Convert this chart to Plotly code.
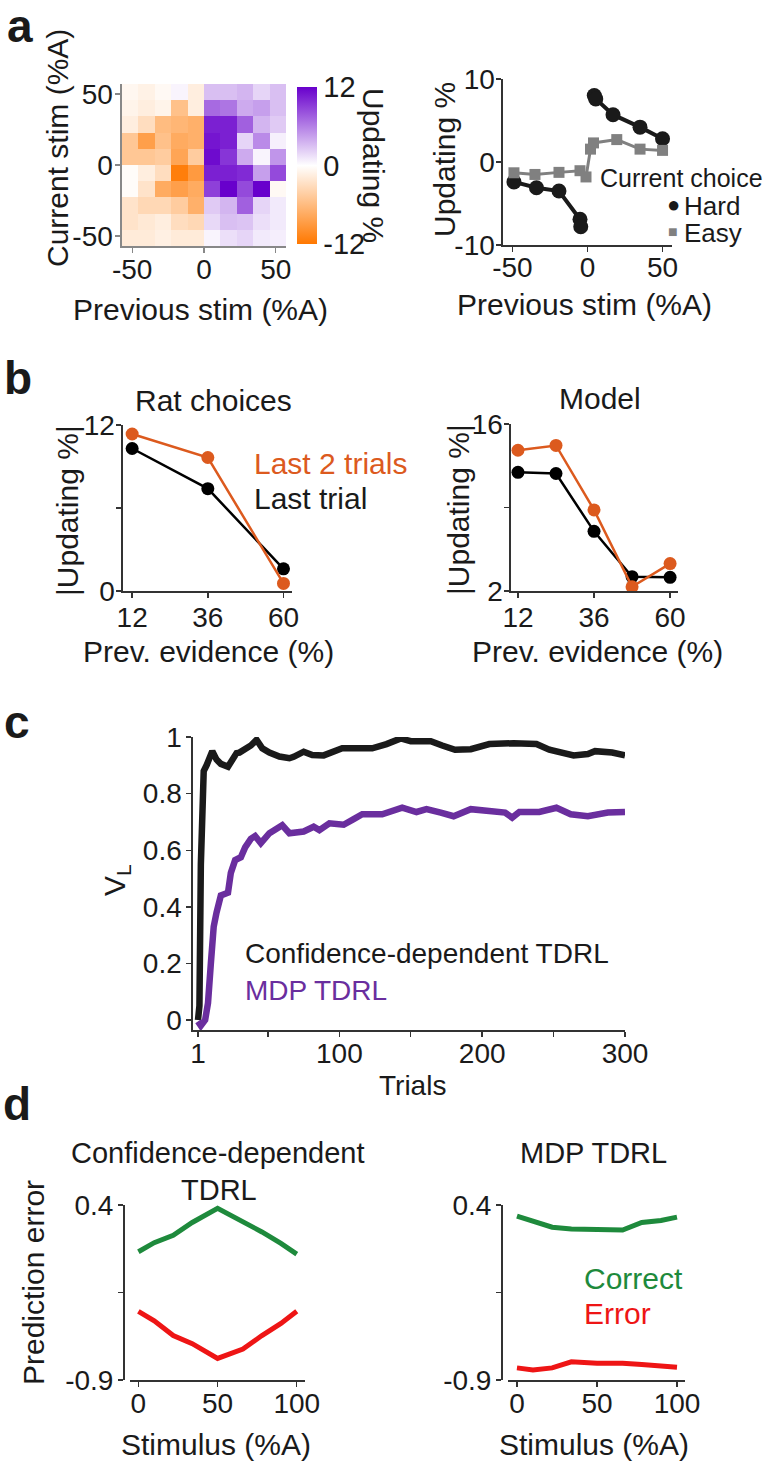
import plotly.graph_objects as go

W, H = 766, 1464
FONT = "Liberation Sans, Arial, sans-serif"
TXT = "#1a1a1a"

# ---------------- data ----------------
# panel a left: heatmap (rows = current stim top->bottom, cols = previous stim)
prev_stim_bins = [-51.4, -40.0, -28.6, -17.1, -5.7, 5.7, 17.1, 28.6, 40.0, 51.4]
curr_stim_bins = [51.3, 39.9, 28.5, 17.1, 5.7, -5.7, -17.1, -28.5, -39.9, -51.3]
updating_map = [
    [-0.7, -1.2, -0.5, 0.5, -1.5, 3.0, 3.0, 3.5, 2.0, 3.0],
    [-1.0, -1.5, -1.0, -5.5, -1.5, 7.0, 6.5, 4.0, 4.5, 3.0],
    [-1.5, -3.0, -6.0, -6.5, -7.0, 10.5, 10.5, 7.5, 3.5, 2.5],
    [-5.0, -8.5, -5.5, -7.5, -7.0, 11.0, 10.5, 2.0, 5.5, 0.7],
    [-5.0, -5.0, -4.5, -8.0, -4.5, 11.5, 9.5, 4.0, 0.5, 5.0],
    [-0.3, -1.5, -3.0, -11.5, -9.0, 10.5, 10.5, 10.0, 4.5, 8.5],
    [-0.3, -2.5, -7.5, -8.5, -7.5, 9.0, 12.0, 8.5, 12.0, -0.5],
    [-2.5, -3.5, -3.5, -4.5, -7.0, 2.5, 3.5, 7.5, 2.0, 1.0],
    [-2.5, -2.0, -1.5, -3.0, -3.5, 1.8, 3.0, 2.8, 1.5, 1.0],
    [-1.8, -1.8, -1.3, -1.8, -1.8, 0.5, 1.5, 2.0, 1.0, 0.8],
]

# panel a right
hard_x = [-49, -34, -19, -5, -4.5, None, 4.5, 5.5, 17, 35, 50]
hard_y = [-2.4, -3.1, -3.5, -6.9, -7.8, None, 8.0, 7.6, 5.7, 4.2, 2.8]
easy_x = [-49, -35, -19, -5, -1, 2, 4, 19.5, 35, 50]
easy_y = [-1.3, -1.5, -1.25, -1.05, -1.8, 1.55, 2.3, 2.7, 1.55, 1.4]

# panel b
rat_evidence = [12, 36, 60]
rat_last_trial = [10.3, 7.4, 1.6]
rat_last2 = [11.35, 9.65, 0.55]
model_evidence = [12, 24, 36, 48, 60]
model_last_trial = [11.95, 11.85, 7.0, 3.2, 3.15]
model_last2 = [13.8, 14.2, 8.8, 2.35, 4.3]

# panel c
conf_trials = [1, 2, 3, 4, 5, 7, 9, 11, 14, 17, 22, 26, 28, 30, 34, 38, 42, 46, 51, 58,
               65, 68, 75, 81, 89, 95, 102, 112, 123, 133, 143, 150, 164, 172, 181, 192,
               205, 222, 238, 247, 256, 264, 274, 279, 291, 300]
conf_vl = [0.0, 0.05, 0.55, 0.82, 0.88, 0.90, 0.93, 0.95, 0.92, 0.905, 0.895, 0.93, 0.943,
           0.945, 0.955, 0.97, 0.99, 0.96, 0.945, 0.931, 0.925, 0.93, 0.948, 0.936, 0.935,
           0.945, 0.96, 0.96, 0.96, 0.975, 0.995, 0.985, 0.985, 0.97, 0.955, 0.957, 0.975,
           0.978, 0.975, 0.955, 0.945, 0.935, 0.94, 0.95, 0.945, 0.935]
mdp_trials = [1, 3, 6, 8, 10, 12, 14, 17, 22, 24, 27, 31, 34, 38, 41, 45, 51, 57, 60, 65,
              75, 82, 86, 93, 103, 110, 116, 130, 144, 154, 161, 171, 180, 192, 205, 216,
              221, 226, 240, 252, 262, 274, 288, 300]
mdp_vl = [-0.005, -0.02, 0.0, 0.06, 0.2, 0.33, 0.38, 0.44, 0.45, 0.52, 0.565, 0.575, 0.61,
          0.64, 0.65, 0.625, 0.66, 0.675, 0.688, 0.66, 0.666, 0.683, 0.671, 0.695, 0.69,
          0.71, 0.727, 0.727, 0.75, 0.735, 0.745, 0.733, 0.72, 0.745, 0.74, 0.733, 0.715,
          0.735, 0.735, 0.75, 0.727, 0.72, 0.733, 0.735]

# panel d
stimulus = [0, 10, 22, 34, 50, 66, 78, 90, 100]
conf_correct = [0.053, 0.12, 0.175, 0.27, 0.375, 0.28, 0.2, 0.115, 0.035]
conf_error = [-0.39, -0.46, -0.57, -0.63, -0.74, -0.67, -0.57, -0.48, -0.39]
mdp_correct = [0.318, 0.28, 0.235, 0.222, 0.214, 0.214, 0.27, 0.285, 0.31]
mdp_error = [-0.81, -0.825, -0.81, -0.765, -0.775, -0.775, -0.785, -0.795, -0.805]

# ---------------- helpers ----------------
def dx(a, b):
    return [a / W, b / W]

def dy(top, bottom):
    return [1 - bottom / H, 1 - top / H]

def px(x):
    return x / W

def py(y):
    return 1 - y / H

ORANGE = "#DC5A1E"
PURPLE = "#6A2E9E"
GREEN = "#1E8A3C"
RED = "#EE1515"

fig = go.Figure()

fig.add_trace(go.Heatmap(
    x=prev_stim_bins, y=curr_stim_bins, z=updating_map, zmin=-12, zmax=12,
    colorscale=[[0, "#FF7800"], [0.5, "#FFFFFF"], [1, "#6800CC"]],
    xaxis="x", yaxis="y",
    colorbar=dict(thickness=20, thicknessmode="pixels", len=157, lenmode="pixels",
                  x=px(297), xanchor="left", y=py(165.5), yanchor="middle",
                  xpad=0, ypad=0, outlinewidth=0, tickvals=[-12, 0, 12],
                  ticktext=["-12", "0", "12"], ticks="",
                  tickfont=dict(size=29, family=FONT, color=TXT)),
))

fig.add_trace(go.Scatter(x=hard_x, y=hard_y, mode="lines+markers", xaxis="x2", yaxis="y2",
                         line=dict(color="#1a1a1a", width=4),
                         marker=dict(symbol="circle", size=15, color="#1a1a1a"),
                         connectgaps=False, showlegend=False))
fig.add_trace(go.Scatter(x=easy_x, y=easy_y, mode="lines+markers", xaxis="x2", yaxis="y2",
                         line=dict(color="#808080", width=3),
                         marker=dict(symbol="square", size=11, color="#808080"),
                         showlegend=False))

for xs, y1, y2, ax in [(rat_evidence, rat_last_trial, rat_last2, "3"),
                       (model_evidence, model_last_trial, model_last2, "4")]:
    fig.add_trace(go.Scatter(x=xs, y=y1, mode="lines+markers", xaxis="x" + ax, yaxis="y" + ax,
                             line=dict(color="#000000", width=2.5),
                             marker=dict(size=13, color="#000000"), showlegend=False))
    fig.add_trace(go.Scatter(x=xs, y=y2, mode="lines+markers", xaxis="x" + ax, yaxis="y" + ax,
                             line=dict(color=ORANGE, width=2.5),
                             marker=dict(size=13, color=ORANGE), showlegend=False))

fig.add_trace(go.Scatter(x=conf_trials, y=conf_vl, mode="lines", xaxis="x5", yaxis="y5",
                         line=dict(color="#1a1a1a", width=6.5), showlegend=False))
fig.add_trace(go.Scatter(x=mdp_trials, y=mdp_vl, mode="lines", xaxis="x5", yaxis="y5",
                         line=dict(color=PURPLE, width=6.5), showlegend=False))

for yc, ye, ax in [(conf_correct, conf_error, "6"), (mdp_correct, mdp_error, "7")]:
    fig.add_trace(go.Scatter(x=stimulus, y=yc, mode="lines", xaxis="x" + ax, yaxis="y" + ax,
                             line=dict(color=GREEN, width=5), showlegend=False))
    fig.add_trace(go.Scatter(x=stimulus, y=ye, mode="lines", xaxis="x" + ax, yaxis="y" + ax,
                             line=dict(color=RED, width=5), showlegend=False))

tickfont = dict(size=28, family=FONT, color=TXT)

def axis(domain, rng, tickvals, ticktext, anchor, linecolor="#333", standoff=0, **kw):
    d = dict(domain=domain, range=rng, tickvals=tickvals, ticktext=ticktext, anchor=anchor,
             showline=True, linecolor=linecolor, linewidth=1.6, ticks="outside", ticklen=5,
             tickwidth=1.4, tickcolor=linecolor, showgrid=False, zeroline=False,
             tickfont=tickfont, fixedrange=True, automargin=False,
             ticklabelstandoff=standoff)
    d.update(kw)
    return d

layout = dict(
    width=W, height=H, margin=dict(l=0, r=0, t=0, b=0, autoexpand=False),
    paper_bgcolor="white", plot_bgcolor="white", showlegend=False,
    font=dict(family=FONT, color=TXT),
    xaxis=axis(dx(122, 286), [-57.1, 57.1], [-50, 0, 50], ["-50", "0", "50"], "y",
               linecolor="#888", standoff=-7),
    yaxis=axis(dy(84, 246), [-57, 57], [-50, 0, 50], ["-50", "0", "50"], "x",
               linecolor="#888", standoff=-3),
    xaxis2=axis(dx(503, 672), [-56.3, 56.3], [-50, 0, 50], ["-50", "0", "50"], "y2", standoff=-8),
    yaxis2=axis(dy(79, 245), [-10, 10], [-10, 0, 10], ["-10", "0", "10"], "x2", standoff=-4),
    xaxis3=axis(dx(123, 292), [9.1, 62.7], [12, 36, 60], ["12", "36", "60"], "y3", standoff=-4),
    yaxis3=axis(dy(425, 591), [0, 12], [0, 6, 12], ["0", " ", "12"], "x3", standoff=-4),
    xaxis4=axis(dx(511, 678), [9.8, 62.5], [12, 36, 60], ["12", "36", "60"], "y4", standoff=-4),
    yaxis4=axis(dy(424, 591), [2, 16], [2, 9, 16], ["2", " ", "16"], "x4", standoff=-4),
    xaxis5=axis(dx(193, 625), [-2.5, 300], [1, 50, 100, 150, 200, 250, 300],
                ["1", " ", "100", " ", "200", " ", "300"], "y5", standoff=-7),
    yaxis5=axis(dy(737, 1030), [-0.0353, 1], [0, 0.2, 0.4, 0.6, 0.8, 1],
                ["0", "0.2", "0.4", "0.6", "0.8", "1"], "x5", standoff=-1),
    xaxis6=axis(dx(130, 305), [-5.3, 105.2], [0, 50, 100], ["0", "50", "100"], "y6", standoff=-7),
    yaxis6=axis(dy(1205, 1380), [-0.9, 0.4], [-0.9, -0.25, 0.4], ["-0.9", " ", "0.4"], "free",
                position=px(123), standoff=-1),
    xaxis7=axis(dx(508, 685), [-5.6, 105], [0, 50, 100], ["0", "50", "100"], "y7", standoff=-7),
    yaxis7=axis(dy(1205, 1380), [-0.9, 0.4], [-0.9, -0.25, 0.4], ["-0.9", " ", "0.4"], "free",
                position=px(501), standoff=-1),
)
fig.update_layout(**layout)

anns = []

def ann(text, x, y, size=30, color=TXT, xa="center", ya="middle", angle=0):
    anns.append(dict(text=text, x=px(x), y=py(y), xref="paper", yref="paper",
                     xanchor=xa, yanchor=ya, textangle=angle, showarrow=False,
                     font=dict(size=size, color=color, family=FONT)))

# panel letters
for letter, x, y in [("a", 20, 26), ("b", 18, 378), ("c", 17, 722), ("d", 17, 1104)]:
    ann("<b>%s</b>" % letter, x, y, size=46)

# panel a
ann("Current stim (%A)", 57, 148, angle=-90)
ann("Previous stim (%A)", 201, 310)
ann("Updating %", 374, 165, angle=90)
ann("Updating %", 445, 159, angle=-90)
ann("Previous stim (%A)", 584, 304)
ann("Current choice", 765, 178, size=25, xa="right")
ann("●", 673, 205, size=22, color="#1a1a1a")
ann("Hard", 682, 206, size=26, xa="left")
ann("■", 673, 232, size=16, color="#808080")
ann("Easy", 682, 233, size=26, xa="left")

# panel b
ann("Rat choices", 213, 400)
ann("Model", 600, 398)
ann("Last 2 trials", 252, 463, color=ORANGE, xa="left")
ann("Last trial", 252, 498, xa="left")
ann("|Updating %|", 67, 511, angle=-90)
ann("|Updating %|", 458, 510, angle=-90)
ann("Prev. evidence (%)", 208, 652)
ann("Prev. evidence (%)", 597, 652)

# panel c
ann("V<sub>L</sub>", 116, 880, angle=-90)
ann("Confidence-dependent TDRL", 243, 953, size=28, xa="left")
ann("MDP TDRL", 243, 990, size=28, color=PURPLE, xa="left")
ann("Trials", 412, 1085, size=28)

# panel d
ann("Confidence-dependent", 218, 1153, size=29)
ann("TDRL", 219, 1190, size=29)
ann("MDP TDRL", 593, 1153, size=29)
ann("Prediction error", 33, 1283, angle=-90)
ann("Stimulus (%A)", 216, 1444)
ann("Stimulus (%A)", 594, 1444)
ann("Correct", 582, 1278, color=GREEN, xa="left")
ann("Error", 582, 1313, color=RED, xa="left")

fig.update_layout(annotations=anns)
fig.write_html("out.html",
               config={"displayModeBar": False, "staticPlot": True},
               post_script="document.body.style.margin='0';"
                           "document.body.style.overflow='hidden';")
